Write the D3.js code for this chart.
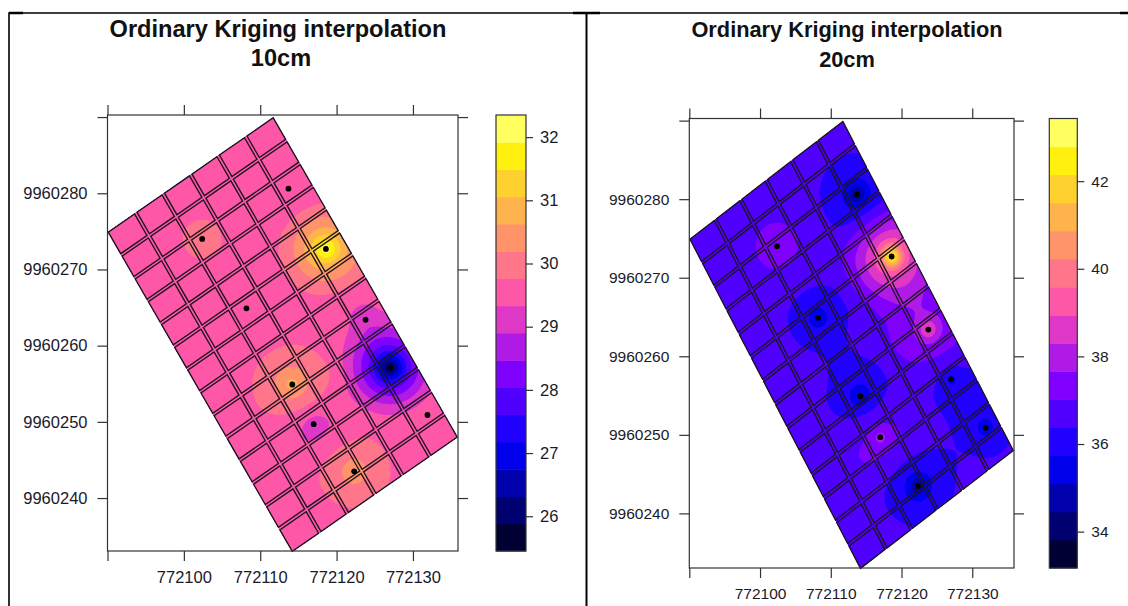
<!DOCTYPE html>
<html>
<head>
<meta charset="utf-8">
<script src="https://cdn.jsdelivr.net/npm/d3@7"></script>
<style>
  html, body { margin: 0; padding: 0; background: #fff; }
  svg { display: block; }
  text { font-family: "Liberation Sans", Arial, sans-serif; fill: #1a1a2a; }
  .title { font-weight: bold; text-anchor: middle; fill: #111; }
</style>
</head>
<body>
<svg id="chart" width="1128" height="606"></svg>
<script>
// sample points, same locations at both depths
const sampleX = [772113.7, 772102.4, 772118.6, 772108.2, 772123.8, 772127.0, 772114.2, 772117.0, 772131.9, 772122.3];
const sampleY = [9960280.6, 9960274.0, 9960272.7, 9960264.9, 9960263.4, 9960257.1, 9960254.9, 9960249.7, 9960250.9, 9960243.5];

// measured value at each sample point
const values10 = [29.38, 30.0, 32.3, 29.38, 29.0, 25.6, 30.85, 29.1, 29.6, 30.6];
const values20 = [34.2, 37.7, 43.3, 35.0, 39.2, 35.5, 34.8, 38.0, 35.2, 34.3];

// plot corners: top, right, bottom, left
const cornerX = [772111.7, 772135.8, 772114.2, 772090.1];
const cornerY = [9960289.9, 9960248.0, 9960233.0, 9960274.9];

const xTicks = [772090, 772100, 772110, 772120, 772130];
const yTicks = [9960240, 9960250, 9960260, 9960270, 9960280, 9960290];
const xDomain = [772090, 772135.9];
const yDomain = [9960233.05, 9960290.27];

const legendTicks10 = [26, 27, 28, 29, 30, 31, 32];
const legendTicks20 = [34, 36, 38, 40, 42];
const legendDomain10 = [25.45, 32.35];
const legendDomain20 = [33.17, 43.43];

const bandColors = ["#000033", "#000070", "#0000AD", "#0000EB", "#2000FF", "#5000FF", "#8000FF", "#AF1AE6",
                    "#DF38C7", "#FF57A8", "#FF758A", "#FF946B", "#FFB34D", "#FFD12E", "#FFF00F", "#FFFF60"];

const nCols = 6;
const nRows = 14;

const svg = d3.select("#chart");

// ordinary kriging, dual form, nested spherical model (short + long range)
function krige(values, model) {
  const n = values.length;
  const sph = (h, r) => h < r ? 1 - 1.5 * h / r + 0.5 * Math.pow(h / r, 3) : 0;
  const cov = h => model.share * sph(h, model.short) + (1 - model.share) * sph(h, model.long);
  const a = d3.range(n + 1).map(i => d3.range(n + 1).map(j => {
    if (i === n && j === n) return 0;
    if (i === n || j === n) return 1;
    return cov(Math.hypot(sampleX[i] - sampleX[j], sampleY[i] - sampleY[j]));
  }));
  const b = values.concat([0]);

  for (let c = 0; c <= n; c++) {
    let p = c;
    for (let r = c + 1; r <= n; r++) if (Math.abs(a[r][c]) > Math.abs(a[p][c])) p = r;
    [a[c], a[p]] = [a[p], a[c]];
    [b[c], b[p]] = [b[p], b[c]];
    for (let r = 0; r <= n; r++) {
      if (r === c) continue;
      const f = a[r][c] / a[c][c];
      for (let k = c; k <= n; k++) a[r][k] -= f * a[c][k];
      b[r] -= f * b[c];
    }
  }
  const w = b.map((v, i) => v / a[i][i]);

  return function(x, y) {
    let z = w[n];
    for (let i = 0; i < n; i++) z += w[i] * cov(Math.hypot(x - sampleX[i], y - sampleY[i]));
    return z;
  };
}

function drawPanel(opt) {
  const x = d3.scaleLinear().domain(xDomain).range([opt.left, opt.right]);
  const y = d3.scaleLinear().domain(yDomain).range([opt.bottom, opt.top]);
  const c = d3.scaleLinear().domain(opt.legendDomain).range([opt.bottom, opt.top]);

  const g = svg.append("g");

  // titles
  opt.titles.forEach(function(t, i) {
    g.append("text").attr("class", "title")
      .attr("x", opt.titleX[i]).attr("y", opt.titleY[i])
      .style("font-size", opt.titleSize + "px")
      .text(t);
  });

  // kriged surface on a fine grid
  const step = 0.2;
  const x0 = xDomain[0] - 1, y0 = yDomain[0] - 1;
  const nx = Math.ceil((xDomain[1] - xDomain[0] + 2) / step);
  const ny = Math.ceil((yDomain[1] - yDomain[0] + 2) / step);
  const field = krige(opt.values, opt.model);
  const grid = new Array(nx * ny);
  for (let j = 0; j < ny; j++) {
    for (let i = 0; i < nx; i++) {
      grid[i + j * nx] = field(x0 + i * step, y0 + j * step);
    }
  }

  const bandStep = (opt.legendDomain[1] - opt.legendDomain[0]) / bandColors.length;
  const thresholds = bandColors.map((d, i) => opt.legendDomain[0] + i * bandStep);
  const contours = d3.contours().size([nx, ny]).thresholds(thresholds)(grid.map(v => Math.max(v, thresholds[0])));

  const toScreen = d3.geoTransform({
    point: function(px, py) {
      this.stream.point(x(x0 + (px - 0.5) * step), y(y0 + (py - 0.5) * step));
    }
  });
  const geoPath = d3.geoPath(toScreen);

  const outline = d3.line().x(i => x(cornerX[i])).y(i => y(cornerY[i])).curve(d3.curveLinearClosed)([0, 1, 2, 3]);

  g.append("clipPath").attr("id", opt.id + "-clip").append("path").attr("d", outline);

  g.append("g").attr("clip-path", `url(#${opt.id}-clip)`)
    .selectAll("path").data(contours).join("path")
    .attr("d", geoPath)
    .attr("fill", (d, i) => bandColors[i]);

  // cell blocks, laid out along the two sides from the top corner
  const uX = (cornerX[3] - cornerX[0]) / nCols, uY = (cornerY[3] - cornerY[0]) / nCols;
  const vX = (cornerX[1] - cornerX[0]) / nRows, vY = (cornerY[1] - cornerY[0]) / nRows;
  const gapU = 0.045, gapV = 0.055;
  const cells = d3.cross(d3.range(nCols), d3.range(nRows));
  const at = (u, v) => [x(cornerX[0] + u * uX + v * vX), y(cornerY[0] + u * uY + v * vY)];

  g.append("g").selectAll("path").data(cells).join("path")
    .attr("d", function(d) {
      const u0 = d[0] === 0 ? 0 : d[0] + gapU, u1 = d[0] === nCols - 1 ? nCols : d[0] + 1 - gapU;
      const v0 = d[1] === 0 ? 0 : d[1] + gapV, v1 = d[1] === nRows - 1 ? nRows : d[1] + 1 - gapV;
      return d3.line().curve(d3.curveLinearClosed)([at(u0, v0), at(u0, v1), at(u1, v1), at(u1, v0)]);
    })
    .attr("fill", "none")
    .attr("stroke", "#1c1420")
    .attr("stroke-width", 1.35);

  // sample points
  g.append("g").selectAll("circle").data(sampleX).join("circle")
    .attr("cx", d => x(d))
    .attr("cy", (d, i) => y(sampleY[i]))
    .attr("r", 2.9)
    .attr("fill", "#000");

  // frame and axes
  g.append("rect")
    .attr("x", opt.left).attr("y", opt.top)
    .attr("width", opt.right - opt.left).attr("height", opt.bottom - opt.top)
    .attr("fill", "none").attr("stroke", "#333").attr("stroke-width", 1.2);

  const xLabel = d => d === xTicks[0] ? "" : d;
  const yLabel = d => d === yTicks[yTicks.length - 1] ? "" : d;
  const place = [
    [d3.axisBottom(x).tickValues(xTicks).tickFormat(xLabel), `translate(0,${opt.bottom})`],
    [d3.axisTop(x).tickValues(xTicks).tickFormat(""), `translate(0,${opt.top})`],
    [d3.axisLeft(y).tickValues(yTicks).tickFormat(yLabel), `translate(${opt.left},0)`],
    [d3.axisRight(y).tickValues(yTicks).tickFormat(""), `translate(${opt.right},0)`]
  ];
  place.forEach(function(p) {
    const ax = g.append("g").attr("transform", p[1])
      .call(p[0].tickSize(10).tickSizeOuter(0).tickPadding(10));
    ax.select(".domain").remove();
    ax.selectAll("line").attr("stroke", "#333").attr("stroke-width", 1.2);
    ax.selectAll("text").style("font-size", opt.fontSize + "px").style("font-family", null).attr("fill", null);
  });

  // colour key
  g.append("g").selectAll("rect").data(bandColors).join("rect")
    .attr("x", opt.keyLeft)
    .attr("width", opt.keyRight - opt.keyLeft)
    .attr("y", (d, i) => c(thresholds[i] + bandStep))
    .attr("height", (d, i) => c(thresholds[i]) - c(thresholds[i] + bandStep) + 0.5)
    .attr("fill", d => d);

  g.append("rect")
    .attr("x", opt.keyLeft).attr("y", opt.top)
    .attr("width", opt.keyRight - opt.keyLeft).attr("height", opt.bottom - opt.top)
    .attr("fill", "none").attr("stroke", "#333").attr("stroke-width", 1.2);

  const keyAxis = g.append("g").attr("transform", `translate(${opt.keyRight},0)`)
    .call(d3.axisRight(c).tickValues(opt.legendTicks).tickSize(7).tickSizeOuter(0).tickPadding(7).tickFormat(d3.format("d")));
  keyAxis.select(".domain").remove();
  keyAxis.selectAll("line").attr("stroke", "#333").attr("stroke-width", 1.2);
  keyAxis.selectAll("text").style("font-size", opt.fontSize + "px").style("font-family", null).attr("fill", null);
}

// page frame around the two pictures
const frame = svg.append("g").attr("stroke", "#000").attr("fill", "none");
frame.append("path").attr("d", "M9,606V13H1128").attr("stroke-width", 1.6);
frame.append("path").attr("d", "M586.5,13V606").attr("stroke-width", 2);
frame.append("path").attr("d", "M9,13H23M573,13H600M1120,13H1128").attr("stroke-width", 2.4);

drawPanel({
  id: "p10", values: values10, model: { share: 0.25, short: 3, long: 8.3 },
  left: 107.5, right: 458, top: 115, bottom: 551,
  keyLeft: 496, keyRight: 526,
  legendDomain: legendDomain10, legendTicks: legendTicks10,
  titles: ["Ordinary Kriging interpolation", "10cm"],
  titleX: [278, 281], titleY: [37, 66], titleSize: 23.6, fontSize: 16.5
});

drawPanel({
  id: "p20", values: values20, model: { share: 0.45, short: 2.5, long: 9.5 },
  left: 689.3, right: 1014, top: 118.5, bottom: 568,
  keyLeft: 1049.3, keyRight: 1077.3,
  legendDomain: legendDomain20, legendTicks: legendTicks20,
  titles: ["Ordinary Kriging interpolation", "20cm"],
  titleX: [847, 847], titleY: [37, 67], titleSize: 21.8, fontSize: 15.5
});
</script>
</body>
</html>
